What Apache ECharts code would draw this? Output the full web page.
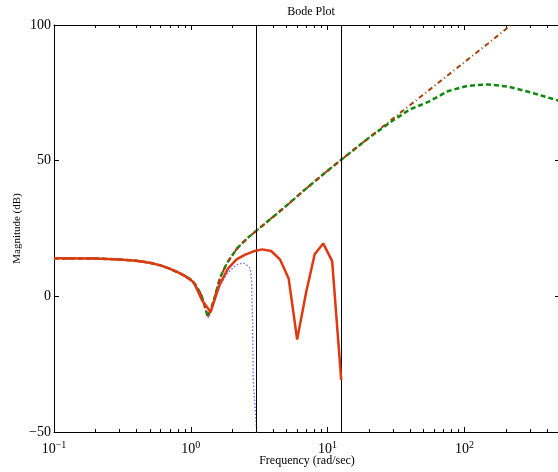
<!DOCTYPE html>
<html>
<head>
<meta charset="utf-8">
<script src="https://cdn.jsdelivr.net/npm/echarts@6/dist/echarts.min.js"></script>
<style>
  html, body { margin: 0; padding: 0; background: #fff; }
  #chart { width: 558px; height: 472px; }
</style>
</head>
<body>
<div id="chart"></div>
<script>
// green dashed curve
var greenFreq = [0.1, 0.2, 0.3, 0.4, 0.5, 0.6, 0.7, 0.8, 0.9, 1.0, 1.1, 1.2, 1.28, 1.33, 1.4, 1.5, 1.64, 1.84, 2.19, 2.6, 3.05, 4, 5, 7, 10, 12.7, 20, 30, 40, 54.6, 76.5, 106, 149, 208, 293, 400, 500];
var greenMag = [14.0, 13.9, 13.6, 13.1, 12.4, 11.4, 10.2, 8.9, 7.6, 6.2, 3.8, 0.2, -4.5, -7.5, -5, 0, 7, 12.3, 17.8, 21.5, 24.4, 29.3, 33.4, 39.8, 46.3, 50.5, 58.4, 64.8, 68.9, 71.7, 75.7, 77.6, 78.1, 77.3, 75.4, 73.4, 72];
// brown dash-dot curve
var brownFreq = [0.1, 0.2, 0.3, 0.4, 0.5, 0.6, 0.7, 0.8, 0.9, 1.0, 1.1, 1.2, 1.28, 1.33, 1.4, 1.5, 1.64, 1.84, 2.19, 2.6, 3.05, 4, 5, 7, 10, 12.7, 20, 30, 50, 100, 150, 223, 300];
var brownMag = [14.0, 13.9, 13.6, 13.1, 12.4, 11.4, 10.2, 8.9, 7.6, 6.2, 3.8, 0.2, -4.5, -7.3, -5, 0, 7, 12.3, 17.8, 21.5, 24.4, 29.3, 33.4, 39.8, 46.3, 50.5, 58.4, 65.5, 74.3, 86.3, 93.3, 100.3, 105.4];
// red solid curve
var redFreq = [0.1, 0.2, 0.3, 0.4, 0.5, 0.6, 0.7, 0.8, 0.9, 1.05, 1.21, 1.396, 1.62, 1.87, 2.16, 2.5, 2.88, 3.32, 3.87, 4.5, 5.19, 5.99, 6.97, 8.05, 9.29, 10.8, 12.58];
var redMag = [14.0, 13.9, 13.6, 13.1, 12.4, 11.4, 10.2, 8.9, 7.6, 5.2, -1.5, -5.8, 4.2, 10.2, 13.6, 15.4, 16.6, 17.3, 16.7, 13.5, 6.6, -15.9, 1.5, 15.5, 19.5, 13.0, -30.9];
// blue dotted curve
var blueFreq = [0.1, 0.2, 0.3, 0.4, 0.5, 0.6, 0.7, 0.8, 0.9, 1.0, 1.1, 1.2, 1.28, 1.35, 1.45, 1.62, 1.87, 2.16, 2.42, 2.62, 2.72, 2.78, 2.83, 2.86, 3.04, 3.1];
var blueMag = [14.0, 13.9, 13.6, 13.1, 12.4, 11.4, 10.2, 8.9, 7.6, 6.2, 3.8, 0.2, -5, -8, -3, 3.5, 8.8, 11.6, 12.3, 11.2, 10.3, 6, -10, -31, -50, -60];
// vertical markers
var markerFreq = [3.04, 12.7];
// axis
var freqMin = 0.1;
var freqMax = 500;
var minorFreq = [0.2, 0.3, 0.4, 0.5, 0.6, 0.7, 0.8, 0.9, 2, 3, 4, 5, 6, 7, 8, 9, 20, 30, 40, 50, 60, 70, 80, 90, 200, 300, 400];

function pairs(xs, ys) {
  return xs.map(function (x, i) { return [Math.log10(x), ys[i]]; });
}

var serif = '"Liberation Serif", "DejaVu Serif", serif';
var chart = echarts.init(document.getElementById('chart'));

var tickStyle = { show: true, inside: true, length: 5, lineStyle: { color: '#000', width: 1 } };
var lineStyle = { show: true, onZero: false, lineStyle: { color: '#000', width: 1 } };

// short inward ticks at bottom and top for 2..9 of each decade
function minorTicks(params, api) {
  var b = api.coord([api.value(0), -50]);
  var t = api.coord([api.value(0), 100]);
  var x = Math.round(b[0]) + 0.5;
  var st = { stroke: '#000', lineWidth: 1 };
  return {
    type: 'group',
    children: [
      { type: 'line', shape: { x1: x, y1: b[1], x2: x, y2: b[1] - 3 }, style: st },
      { type: 'line', shape: { x1: x, y1: t[1], x2: x, y2: t[1] + 3 }, style: st }
    ]
  };
}

var option = {
  animation: false,
  title: {
    text: 'Bode Plot',
    left: 306,
    textAlign: 'center',
    top: 1,
    textStyle: { fontFamily: serif, fontSize: 12, fontWeight: 'normal', color: '#000' }
  },
  grid: { left: 54, top: 25, width: 506, height: 407, containLabel: false, outerBoundsMode: 'none' },
  xAxis: [
    {
      type: 'value', min: Math.log10(freqMin), max: Math.log10(freqMax), interval: 1,
      name: 'Frequency (rad/sec)', nameLocation: 'middle', nameGap: 23, nameMoveOverlap: false,
      nameTextStyle: { fontFamily: serif, fontSize: 12, color: '#000' },
      axisLine: lineStyle, axisTick: tickStyle,
      splitLine: { show: false },
      axisLabel: {
        margin: 8, showMaxLabel: false,
        formatter: function (v) {
          if (Math.abs(v - Math.round(v)) > 1e-6) return '';
          return '{b|10}{e|' + String(Math.round(v)).replace('-', '\u2212') + '}';
        },
        rich: {
          b: { fontFamily: serif, fontSize: 14, color: '#000' },
          e: { fontFamily: serif, fontSize: 10, color: '#000', padding: [0, 0, 9, 0] }
        }
      }
    },
    {
      type: 'value', min: Math.log10(freqMin), max: Math.log10(freqMax), interval: 1, position: 'top',
      axisLine: lineStyle, axisTick: tickStyle,
      axisLabel: { show: false }, splitLine: { show: false }
    }
  ],
  yAxis: [
    {
      type: 'value', min: -50, max: 100, interval: 50,
      name: 'Magnitude (dB)', nameLocation: 'middle', nameGap: 31, nameMoveOverlap: false,
      nameTextStyle: { fontFamily: serif, fontSize: 11, color: '#000' },
      axisLine: lineStyle, axisTick: tickStyle,
      splitLine: { show: false },
      axisLabel: {
        fontFamily: serif, fontSize: 14, color: '#000', margin: 3,
        formatter: function (v) { return String(v).replace('-', '\u2212'); }
      }
    },
    {
      type: 'value', min: -50, max: 100, interval: 50, position: 'right',
      axisLine: lineStyle, axisTick: tickStyle, axisLabel: { show: false }, splitLine: { show: false }
    }
  ],
  series: [
    {
      type: 'custom', renderItem: minorTicks, silent: true, clip: false,
      data: minorFreq.map(function (f) { return [Math.log10(f), -50]; }), z: 1
    },
    {
      type: 'line', data: pairs(blueFreq, blueMag), showSymbol: false, clip: true,
      lineStyle: { color: '#7070ff', width: 1.4, type: [1.5, 2] }, z: 2
    },
    {
      type: 'line', data: pairs(greenFreq, greenMag), showSymbol: false, clip: true,
      lineStyle: { color: '#0a8a0a', width: 2.5, type: [5, 3] }, z: 3
    },
    {
      type: 'line', data: pairs(brownFreq, brownMag), showSymbol: false, clip: true,
      lineStyle: { color: '#a8400c', width: 2, type: [5, 3, 1, 3] }, z: 4
    },
    {
      type: 'line', data: pairs(redFreq, redMag), showSymbol: false, clip: true,
      lineStyle: { color: '#e03810', width: 2.5 }, z: 5,
      markLine: {
        silent: true, symbol: 'none', label: { show: false },
        lineStyle: { color: '#000', width: 1, type: 'solid' },
        data: markerFreq.map(function (f) { return { xAxis: Math.log10(f) }; })
      }
    }
  ]
};
chart.setOption(option);
</script>
</body>
</html>
